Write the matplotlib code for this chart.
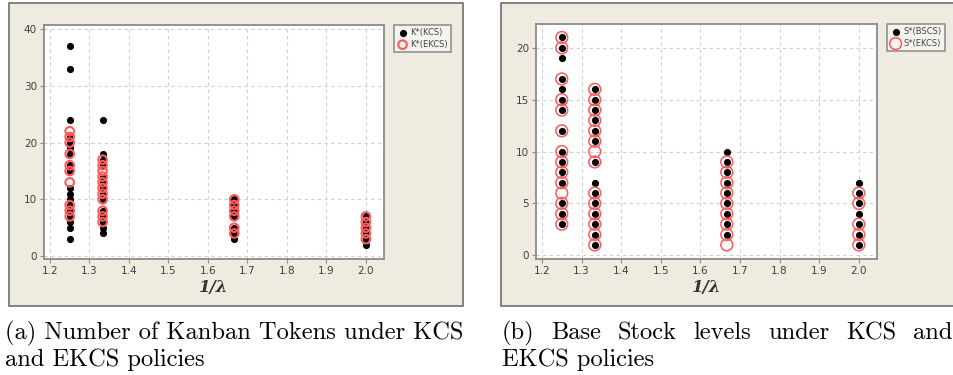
import matplotlib
matplotlib.use("Agg")
import matplotlib.pyplot as plt
from matplotlib.patches import Rectangle

# (a) K* values at each 1/lambda
K_X = [1.25, 1.3333, 1.6667, 2.0]
K_KCS = [
    [37, 33, 24, 21, 20, 19, 18, 16, 15, 12, 11, 10, 9, 8, 7, 6, 5, 3],
    [24, 18, 17, 16, 14, 13, 12, 11, 10, 8, 7, 6, 5, 4],
    [10, 9, 8, 7, 5, 4, 3],
    [7, 6, 5, 4, 3, 2],
]
K_EKCS = [
    [22, 21, 20, 18, 16, 15, 13, 9, 8, 7],
    [17, 16, 15, 14, 13, 12, 11, 10, 8, 7, 6],
    [10, 9, 8, 7, 5, 4],
    [7, 6, 5, 4, 3],
]

# (b) S* values
S_X = [1.25, 1.3333, 1.6667, 2.0]
S_BSCS = [
    [21, 20, 19, 17, 16, 15, 14, 12, 10, 9, 8, 7, 5, 4, 3],
    [16, 15, 14, 13, 12, 11, 9, 7, 6, 5, 4, 3, 2, 1],
    [10, 9, 8, 7, 6, 5, 4, 3, 2],
    [7, 6, 5, 4, 3, 2, 1],
]
S_EKCS = [
    [21, 20, 17, 15, 14, 12, 10, 9, 8, 7, 6, 5, 4, 3],
    [16, 15, 14, 13, 12, 11, 10, 9, 6, 5, 4, 3, 2, 1],
    [9, 8, 7, 6, 5, 4, 3, 2, 1],
    [6, 5, 3, 2, 1],
]

X_TICKS = [1.2, 1.3, 1.4, 1.5, 1.6, 1.7, 1.8, 1.9, 2.0]
CAP_A = ["(a) Number of Kanban Tokens under KCS", "and EKCS policies"]
CAP_B = ["(b) Base Stock levels under KCS and", "EKCS policies"]

W, H = 954, 375
BEIGE = "#efebe0"
fig = plt.figure(figsize=(W / 100, H / 100), dpi=100)
fig.patch.set_facecolor("white")


def px(x, y, w, h):
    return [x / W, 1 - (y + h) / H, w / W, h / H]


# panel frames (behind the axes)
for x0, x1 in ((9, 463), (501, 960)):
    fig.patches.append(Rectangle((x0 / W, 1 - 306 / H), (x1 - x0) / W, 303 / H,
                                 transform=fig.transFigure, facecolor=BEIGE,
                                 edgecolor="#6e6e6e", linewidth=1.2, zorder=-5))


def flat(xs, groups):
    px_, py_ = [], []
    for x, g in zip(xs, groups):
        px_ += [x] * len(g)
        py_ += g
    return px_, py_


def panel(rect, xs, black, red, ylim, yticks, labels, circ_size, circ_lw):
    ax = fig.add_axes(rect)
    ax.set_zorder(2)
    ax.set_facecolor("white")
    bx, by = flat(xs, black)
    rx, ry = flat(xs, red)
    ax.scatter(bx, by, s=17, color="black", zorder=3, label=labels[0])
    ax.scatter(rx, ry, s=circ_size, facecolors="none", edgecolors="#ff5a5a",
               linewidths=circ_lw, zorder=4, label=labels[1])
    ax.set_xlim(1.185, 2.046)
    ax.set_ylim(*ylim)
    ax.set_xticks(X_TICKS)
    ax.set_xticklabels([f"{t:.1f}" for t in X_TICKS])
    ax.set_yticks(yticks)
    ax.grid(True, color="#cfcfcf", linestyle=(0, (3, 3)), linewidth=0.8)
    ax.set_axisbelow(True)
    for sp in ax.spines.values():
        sp.set_color("#8a8a8a")
        sp.set_linewidth(1.3)
    ax.tick_params(labelsize=7.5, colors="#8a8a8a", labelcolor="#404040",
                   length=3, width=0.8, pad=2)
    ax.set_xlabel("1/λ", family="DejaVu Serif", style="italic",
                  fontweight="bold", fontsize=12, color="#333333", labelpad=2)
    leg = ax.legend(loc="upper left", bbox_to_anchor=(1.03, 1.0), fontsize=6,
                    frameon=True, fancybox=False, borderpad=0.4,
                    handletextpad=0.3, handlelength=1.2, labelspacing=0.3,
                    borderaxespad=0)
    leg.get_frame().set_edgecolor("#7a7a7a")
    leg.get_frame().set_linewidth(1.2)
    leg.get_frame().set_facecolor("#f7f6f2")
    for t in leg.get_texts():
        t.set_color("#444444")
    return ax


panel(px(44, 25, 340, 234), K_X, K_KCS, K_EKCS, (-0.5, 40.7),
      [0, 10, 20, 30, 40], ["K*(KCS)", "K*(EKCS)"], 38, 1.5)
panel(px(536, 24, 341, 235), S_X, S_BSCS, S_EKCS, (-0.36, 22.3),
      [0, 5, 10, 15, 20], ["S*(BSCS)", "S*(EKCS)"], 72, 1.1)

# captions
CAP_FS = 17.6
fig.text(5 / W, 1 - 339 / H, CAP_A[0], family="cmr10", fontsize=CAP_FS, va="baseline")
fig.text(5 / W, 1 - 366 / H, CAP_A[1], family="cmr10", fontsize=CAP_FS, va="baseline")

# justified first line of caption (b)
words = CAP_B[0].split()
fig.canvas.draw()
r = fig.canvas.get_renderer()
objs = [fig.text(0, 1 - 339 / H, w_, family="cmr10", fontsize=CAP_FS, va="baseline")
        for w_ in words]
widths = [o.get_window_extent(r).width for o in objs]
x0, x1 = 502, 952
gap = (x1 - x0 - sum(widths)) / (len(words) - 1)
x = x0
for o, w_ in zip(objs, widths):
    o.set_x(x / W)
    x += w_ + gap
fig.text(502 / W, 1 - 366 / H, CAP_B[1], family="cmr10", fontsize=CAP_FS, va="baseline")

fig.savefig("out.png", dpi=100)
